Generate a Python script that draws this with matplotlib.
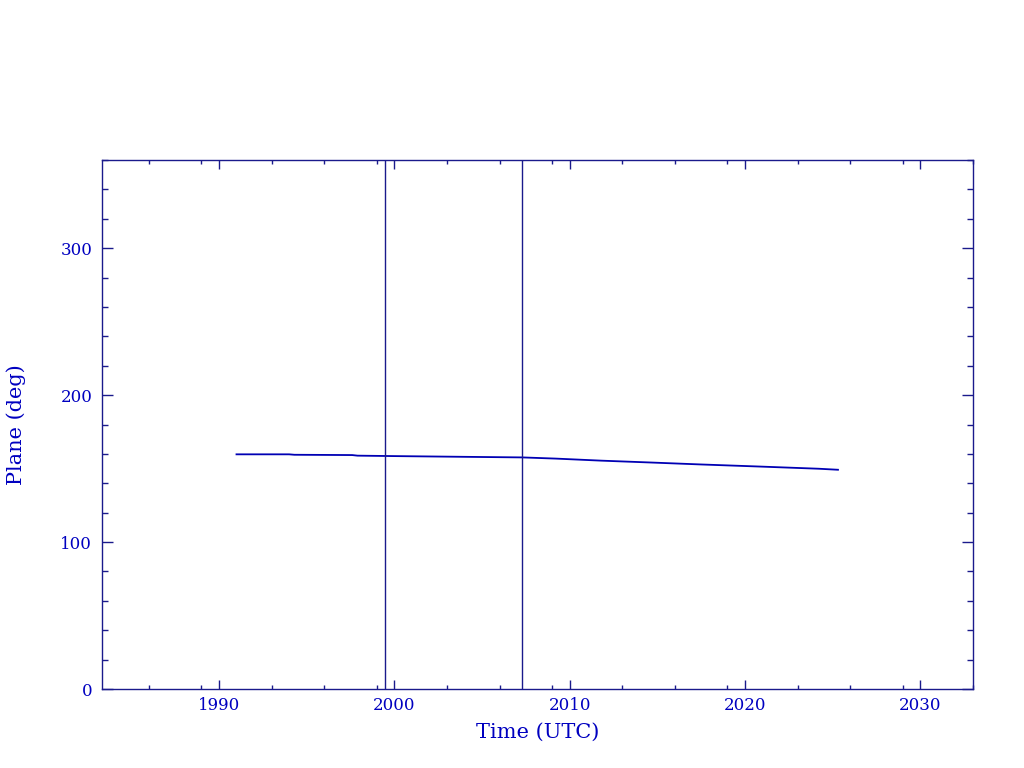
import matplotlib
matplotlib.use("Agg")
import matplotlib.pyplot as plt
import numpy as np

# orbital plane angle vs time
years = [1991.0, 1994.0, 1994.3, 1997.6, 1997.9, 2000.0, 2004.0, 2007.3,
         2009.2, 2011.8, 2014.7, 2017.5, 2020.8, 2024.2, 2025.3]
plane = [159.7, 159.7, 159.4, 159.2, 158.8, 158.5, 158.0, 157.6,
         156.8, 155.4, 154.1, 152.8, 151.4, 149.9, 149.2]

# vertical markers
events = [1999.44, 2007.30]

xticks = [1990, 2000, 2010, 2020, 2030]
xminor = [1986, 1989, 1993, 1996, 1999, 2003, 2006, 2009, 2013, 2016, 2019,
          2023, 2026, 2029, 2033]
yticks = [0, 100, 200, 300]

axis_col = "#1a1a8c"
text_col = "#0000c0"
line_col = "#0000b4"

plt.rcParams['font.family'] = ['DejaVu Serif']

fig = plt.figure(figsize=(10.24, 7.68), dpi=100)
ax = fig.add_axes([102/1024, 1 - 689/768, 871/1024, 529/768])

ax.plot(years, plane, color=line_col, lw=1.3)
for e in events:
    ax.axvline(e, color=axis_col, lw=1.0)

ax.set_xlim(1983.33, 2032.88)
ax.set_ylim(0, 360)
ax.set_xticks(xticks)
ax.set_xticks(xminor, minor=True)
ax.set_yticks(yticks)
ax.set_yticks(np.arange(0, 361, 20), minor=True)

for s in ax.spines.values():
    s.set_color(axis_col)
    s.set_linewidth(1.0)

ax.tick_params(axis='both', which='both', direction='in', top=True, right=True,
               color=axis_col, labelcolor=text_col, labelsize=12, width=1.0)
ax.tick_params(axis='x', which='major', length=6.5, pad=6)
ax.tick_params(axis='x', which='minor', length=3.2)
ax.tick_params(axis='y', which='major', length=8, pad=7)
ax.tick_params(axis='y', which='minor', length=4.3)

ax.set_xlabel("Time (UTC)", color=text_col, fontsize=15)
ax.set_ylabel("Plane (deg)", color=text_col, fontsize=15)
ax.xaxis.set_label_coords(0.5, (689 - 723) / 529)
ax.yaxis.set_label_coords((26 - 102) / 871, 0.5)

fig.savefig("out.png", dpi=100)
